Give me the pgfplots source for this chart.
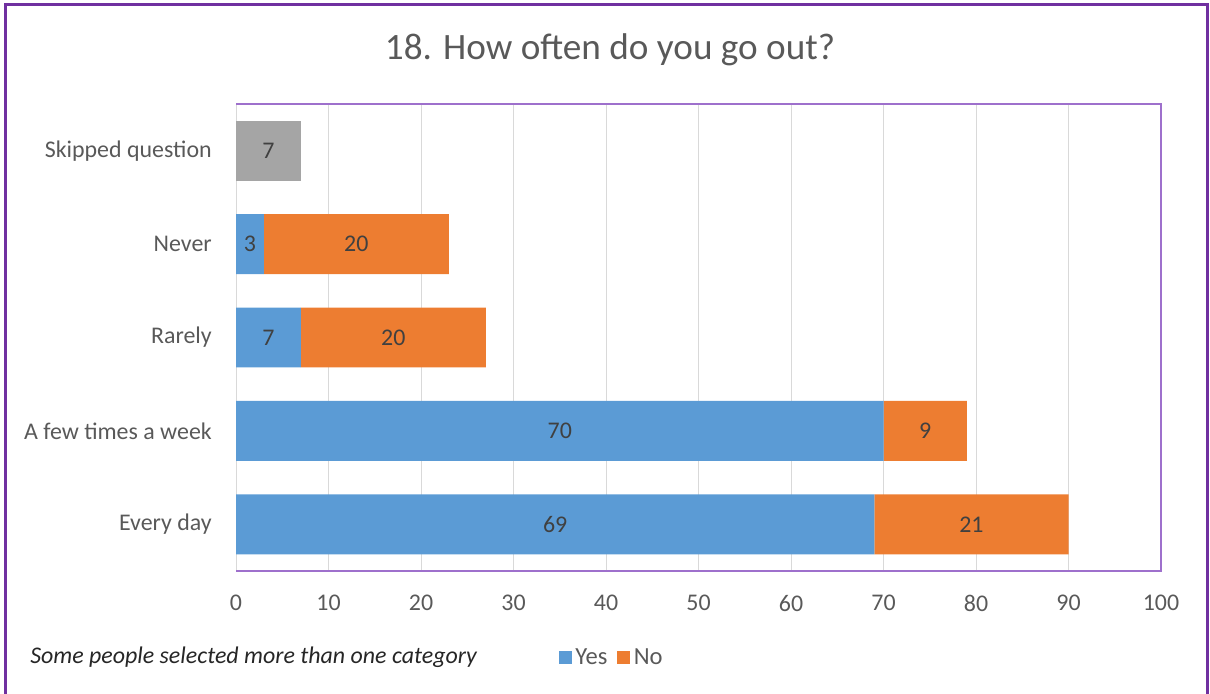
\documentclass[border=0pt]{standalone}
\usepackage{pgfplots}
\pgfplotsset{compat=1.18}
\usepackage{pgfplotstable}
\usepackage{fontspec}
\setmainfont{Carlito}
\definecolor{cyes}{HTML}{5B9BD5}
\definecolor{cno}{HTML}{ED7D31}
\definecolor{cskip}{HTML}{A5A5A5}
\definecolor{ctext}{HTML}{595959}
\definecolor{clab}{HTML}{404040}
\definecolor{cgrid}{HTML}{D9D9D9}
\definecolor{couter}{HTML}{7030A0}
\definecolor{cplot}{HTML}{9E70CC}
\pgfplotstableread{
pos yes no skip
1 69 21 0
2 70 9 0
3 7 20 0
4 3 20 0
5 0 0 7
}\data
\pgfplotsset{
  barlab/.style={
    visualization depends on={\thisrow{#1} \as \vv},
    nodes near coords={\ifdim\vv pt<0.5pt \else\pgfmathprintnumber[fixed,precision=0]{\vv}\fi},
    every node near coord/.append style={anchor=center,
      font=\fontsize{18}{22}\selectfont, text=clab},
  },
}
\begin{document}
\begin{tikzpicture}[x=0.75bp,y=0.75bp]
\path[use as bounding box] (0,0) rectangle (1210,693);
\draw[couter, line width=2bp] (5.5,-5) -- (5.5,688.5) -- (1207.5,688.5) -- (1207.5,-5);
\node[font=\fontsize{28}{34}\selectfont, text=ctext] at (610,643) {18. How often do you go out?};
\node[anchor=west, font=\fontsize{18}{22}\selectfont\itshape, text=black!85, inner sep=0pt] at (30,36) {Some people selected more than one category};
\begin{axis}[
  at={(177bp,91.5bp)}, anchor=south west,
  width=693.75bp, height=350.25bp, scale only axis,
  xbar stacked, bar width=0.642,
  xmin=0, xmax=100, ymin=0.5, ymax=5.5,
  clip=false,
  xtick={0,10,...,100},
  ytick={1,2,3,4,5},
  yticklabels={Every day, A few times a week, Rarely, Never, Skipped question},
  xmajorgrids, major grid style={cgrid, line width=0.75bp},
  tick style={draw=none},
  axis line style={draw=none},
  ticklabel style={font=\fontsize{18}{22}\selectfont, text=ctext},
  /pgf/number format/assume math mode=true,
  xticklabel style={anchor=north, inner sep=0pt, yshift=-18bp},
  yticklabel style={anchor=east, inner sep=0pt, xshift=-18bp},
  legend style={at={(0.407,-0.185)}, anchor=center, draw=none, fill=none,
    legend columns=-1, font=\fontsize{18.5}{22}\selectfont, text=ctext,
    nodes={inner xsep=2.5bp},
    /tikz/every even column/.append style={column sep=5bp}},
  legend image code/.code={\fill[#1] (0bp,-4.875bp) rectangle (9.75bp,4.875bp);},
]
\addplot[fill=cyes, draw=none, barlab=yes] table[x=yes, y=pos] {\data};
\addplot[fill=cno, draw=none, barlab=no] table[x=no, y=pos] {\data};
\addplot[fill=cskip, draw=none, barlab=skip] table[x=skip, y=pos] {\data};
\legend{Yes, No}
\draw[cplot, line width=1.1bp] (axis cs:0,5.5) -- (axis cs:100,5.5) -- (axis cs:100,0.5) -- (axis cs:0,0.5);
\draw[cgrid, line width=0.75bp] (axis cs:0,0.5) -- (axis cs:0,5.5);
\end{axis}
\end{tikzpicture}
\end{document}
